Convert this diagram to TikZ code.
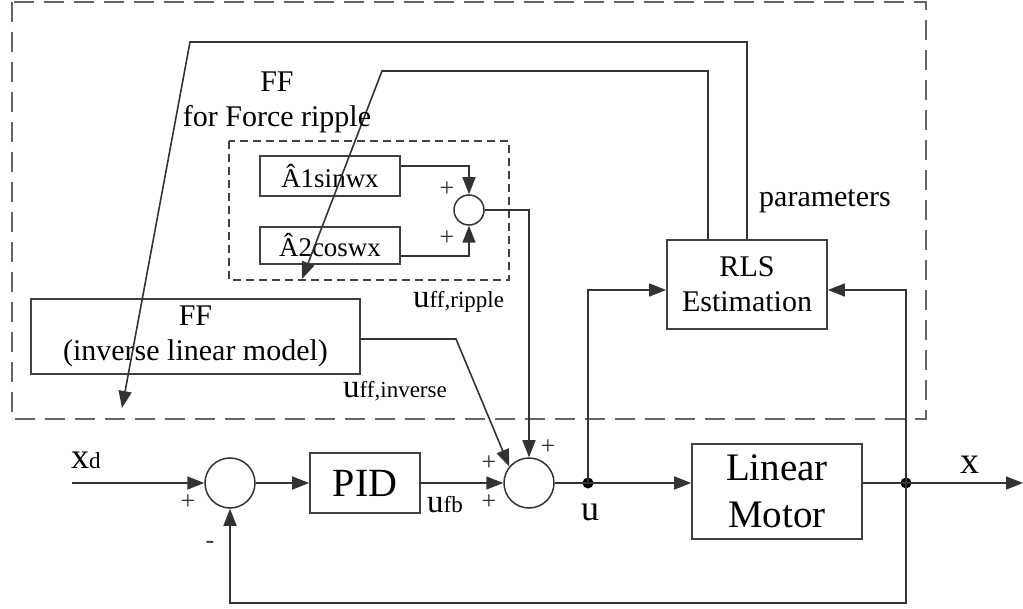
\documentclass[tikz,border=0pt]{standalone}
\usepackage{fontspec}
\setmainfont{Liberation Serif}
\usetikzlibrary{arrows.meta,calc}
\begin{document}
\begin{tikzpicture}[x=1pt,y=-1pt,
  ln/.style={draw=black!80, line width=1.6pt},
  arr/.style={ln,-{Triangle[length=17pt,width=13pt]}},
  blk/.style={draw=black!75, line width=1.7pt, inner sep=0pt, align=center},
  sumc/.style={circle, draw=black!80, line width=1.5pt, inner sep=0pt},
  jdot/.style={circle, fill=black, inner sep=0pt, minimum size=11pt},
  tx/.style={font=\fontsize{30}{35}\selectfont, inner sep=0pt},
  big/.style={font=\fontsize{39}{47}\selectfont},
  sgn/.style={font=\fontsize{26}{26}\selectfont, inner sep=0pt, text=black!80},
]
\useasboundingbox (0,0) rectangle (1023,609);
% dashed groups
\draw[black!60, dash pattern=on 20pt off 10pt, line width=2.2pt] (12,2) rectangle (926,419);
\draw[black!75, dash pattern=on 8pt off 5pt, line width=1.6pt] (229,141) rectangle (509,280);
% blocks
\node[blk, minimum width=140pt, minimum height=40pt, font=\fontsize{27}{27}\selectfont] (a1) at (330,176) {Â1sinwx};
\node[blk, minimum width=140pt, minimum height=37pt, font=\fontsize{27}{27}\selectfont] (a2) at (330,245.5) {Â2coswx};
\node[sumc, minimum size=30pt] (s0) at (469,210) {};
\node[blk, tx, minimum width=329pt, minimum height=75pt] (ff) at (195.5,336.5) {FF\\(inverse linear model)};
\node[blk, tx, minimum width=160pt, minimum height=89pt] (rls) at (747,284.5) {RLS\\Estimation};
\node[sumc, minimum size=50pt] (c1) at (230,483) {};
\node[blk, minimum width=110pt, minimum height=60pt, font=\fontsize{40}{40}\selectfont] (pid) at (365,483) {PID};
\node[sumc, minimum size=50pt] (bs) at (529,483) {};
\node[blk, big, minimum width=170pt, minimum height=95pt] (motor) at (777,491.5) {Linear\\Motor};
\node[jdot] (ju) at (588,483) {};
\node[jdot] (jx) at (906,483) {};
\coordinate (xd) at (72,483);
\coordinate (xout) at (1023,483);
\coordinate (t1) at (122,408);
\coordinate (t2) at (302,279);
% feedforward paths
\draw[arr] ($(rls.north)$) -- (747,42) -- (190,42) -- (t1);
\draw[arr] ($(rls.north)+(-39,0)$) -- (708,71) -- (382,71) -- (t2);
\draw[arr] ($(a1.east)+(0,-10)$) -| (s0.north);
\draw[arr] ($(a2.east)+(0,10.5)$) -| (s0.south);
\draw[arr] (s0.east) -| (bs.north);
\draw[arr] ($(ff.east)+(0,2.5)$) -- (456,339) -- (bs.140);
% main loop
\draw[arr] (xd) -- (c1.west);
\draw[arr] (c1.east) -- (pid.west);
\draw[arr] (pid.east) -- (bs.west);
\draw[ln] (bs.east) -- (ju.center);
\draw[arr] (ju.center) -- (ju -| motor.west);
\draw[ln] (jx -| motor.east) -- (jx.center);
\draw[arr] (jx.center) -- (xout);
\draw[arr] (ju.center) |- ($(rls.west)+(0,5.5)$);
\draw[arr] (jx.center) |- ($(rls.east)+(0,5.5)$);
\draw[arr] (jx.center) -- (906,603) -| (c1.south);
% labels
\node[tx, anchor=base] (lff) at (277,92) {FF};
\node[tx, anchor=base] (lffr) at (277,127) {for Force ripple};
\node[tx, anchor=base west] (lpar) at (759,207) {parameters};
\node[anchor=base west, inner sep=0pt] (lrip) at (413,308) {\fontsize{33}{33}\selectfont u\fontsize{23}{23}\selectfont ff,ripple};
\node[anchor=base west, inner sep=0pt] (linv) at (343,398) {\fontsize{33}{33}\selectfont u\fontsize{23}{23}\selectfont ff,inverse};
\node[anchor=base west, inner sep=0pt] (lxd) at (71,468) {\fontsize{36}{36}\selectfont x\fontsize{23}{23}\selectfont d};
\node[anchor=base west, inner sep=0pt] (lfb) at (427,512) {\fontsize{33}{33}\selectfont u\fontsize{23}{23}\selectfont fb};
\node[anchor=base west, inner sep=0pt, font=\fontsize{36}{36}\selectfont] (lu) at (581,520) {u};
\node[anchor=base west, inner sep=0pt, font=\fontsize{38}{38}\selectfont] (lx) at (960,474) {x};
\node[sgn] at (447,189) {+};
\node[sgn] at (447,238) {+};
\node[sgn] at (188,502) {+};
\node[sgn] at (210,545) {-};
\node[sgn] at (489,463) {+};
\node[sgn] at (489,502) {+};
\node[sgn] at (548,447) {+};
\end{tikzpicture}
\end{document}
